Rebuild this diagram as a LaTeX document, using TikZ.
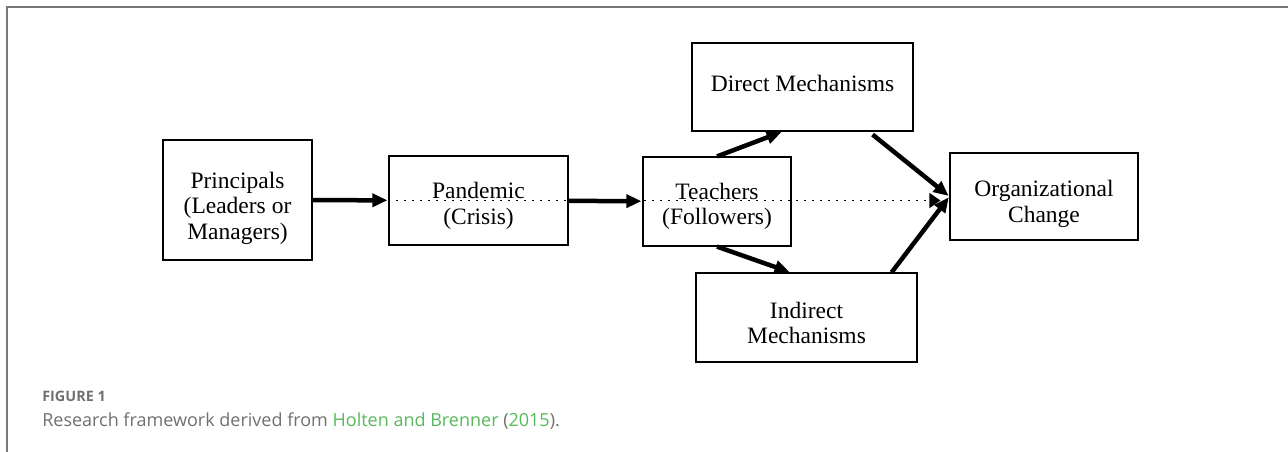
\documentclass[tikz,border=0pt]{standalone}
\usepackage{fontspec}
\setmainfont{Liberation Serif}
\newfontfamily\capfont{Open Sans}
\usepackage{tikz}
\usetikzlibrary{arrows.meta,positioning}
\definecolor{framegray}{RGB}{120,120,120}
\definecolor{capgray}{RGB}{112,112,112}
\definecolor{linkgreen}{RGB}{88,184,92}

\begin{document}
\begin{tikzpicture}[x=1pt,y=-1pt,>={Triangle[length=15pt,width=13pt]},semithick]
\tikzstyle{block}=[draw=black,line width=1.2pt,inner sep=0pt]
\tikzstyle{words}=[align=center,inner sep=0pt,font=\fontsize{23.5}{25.5}\selectfont]
\tikzstyle{flow}=[->,line width=4.5pt,shorten >=1pt]
\tikzstyle{guess}=[-{Triangle[length=11pt,width=15pt]},line width=1.5pt,
  dash pattern=on 1.5pt off 6.5pt,shorten >=9pt]
\useasboundingbox (0,0) rectangle (1288,452);
\draw[framegray,line width=1.5pt] (7,452) -- (7,7) -- (1288,7);

\node[block,minimum width=149pt,minimum height=120pt] (P) at (237.5,200) {};
\node[block,minimum width=179pt,minimum height=89pt] (C) at (478.5,200.5) {};
\node[block,minimum width=148pt,minimum height=89pt] (T) at (717,201.5) {};
\node[block,minimum width=221pt,minimum height=88pt] (D) at (802.5,87) {};
\node[block,minimum width=221pt,minimum height=89pt] (I) at (806.5,317.5) {};
\node[block,minimum width=188pt,minimum height=87pt] (O) at (1044,196.5) {};

\node[words] (Pt) at (237.5,208) {Principals\\(Leaders or\\Managers)};
\node[words] (Ct) at (478.5,206) {Pandemic\\(Crisis)};
\node[words] (Tt) at (717,206.5) {Teachers\\(Followers)};
\node[words] (Dt) at (802.5,83) {Direct Mechanisms};
\node[words] (It) at (806.5,323) {Indirect\\Mechanisms};
\node[words] (Ot) at (1044,204) {Organizational\\Change};

\draw[guess] (C.west) -- (O.west |- C.west);
\path[flow] (P)edge(C)
            (C)edge(T)
            (T.north)edge([xshift=-20pt]D.south)
            ([xshift=-41pt,yshift=-3pt]D.south east)edge(O.west)
            (T.south)edge([xshift=-16pt]I.north)
            ([xshift=-26pt]I.north east)edge(O.west);

\node[anchor=base west,inner sep=0pt,text=capgray,font=\capfont\bfseries\fontsize{14.4}{17}\selectfont]
  (fig) at (42,401) {FIGURE 1};
\node[anchor=base west,inner sep=0pt,text=capgray,font=\capfont\fontsize{18}{21}\selectfont]
  (cap) at (42,426) {Research framework derived from \textcolor{linkgreen}{Holten and Brenner} (\textcolor{linkgreen}{2015}).};
\end{tikzpicture}
\end{document}
